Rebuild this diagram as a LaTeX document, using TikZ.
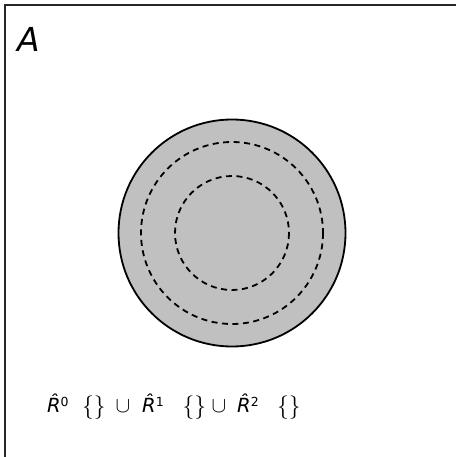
\documentclass[tikz,border=0pt]{standalone}
\usepackage{graphicx}
\usepackage{fontspec}
\setmainfont{DejaVu Sans}
\newcommand\rsup[1]{\raisebox{6pt}{\fontsize{12.5}{13}\selectfont #1}}
\newcommand\rhat{{\itshape R^^^^0302}}
\newcommand\bracepair{\scalebox{2.35}{$\{\}$}}
\newcommand\cupsym{\scalebox{2.2}{$\cup$}}
\begin{document}
\begin{tikzpicture}[x=1pt,y=-1pt,
  framestyle/.style={line width=2pt,black!85},
  ring/.style={line width=1.8pt,dash pattern=on 6pt off 4.5pt},
  labelstyle/.style={anchor=base west,inner sep=0pt},
  rstyle/.style={labelstyle,font=\fontsize{19.5}{24}\selectfont}]
\useasboundingbox (0,0) rectangle (455,457);
\draw[framestyle] (5,460) -- (5,5) -- (460,5);
\coordinate (c) at (232,233);
\fill[fill={rgb,255:red,192;green,192;blue,192}] (c) circle[radius=113.5];
\draw[line width=1.8pt] (c) circle[radius=113.5];
\draw[ring] (c) circle[radius=91];
\draw[ring] (c) circle[radius=57];
\node[labelstyle] (a) at (17,52) {\fontsize{33}{40}\selectfont\itshape A};
\node[rstyle] (r0) at (47,412) {\rhat\rsup{0}};
\node[labelstyle] (b0) at (82,413) {\bracepair};
\node[labelstyle] (u0) at (115.5,412) {\cupsym};
\node[rstyle] (r1) at (142,412) {\rhat\rsup{1}};
\node[labelstyle] (b1) at (182.5,413) {\bracepair};
\node[labelstyle] (u1) at (211.5,412) {\cupsym};
\node[rstyle] (r2) at (237,412) {\rhat\rsup{2}};
\node[labelstyle] (b2) at (277,413) {\bracepair};
\end{tikzpicture}
\end{document}
